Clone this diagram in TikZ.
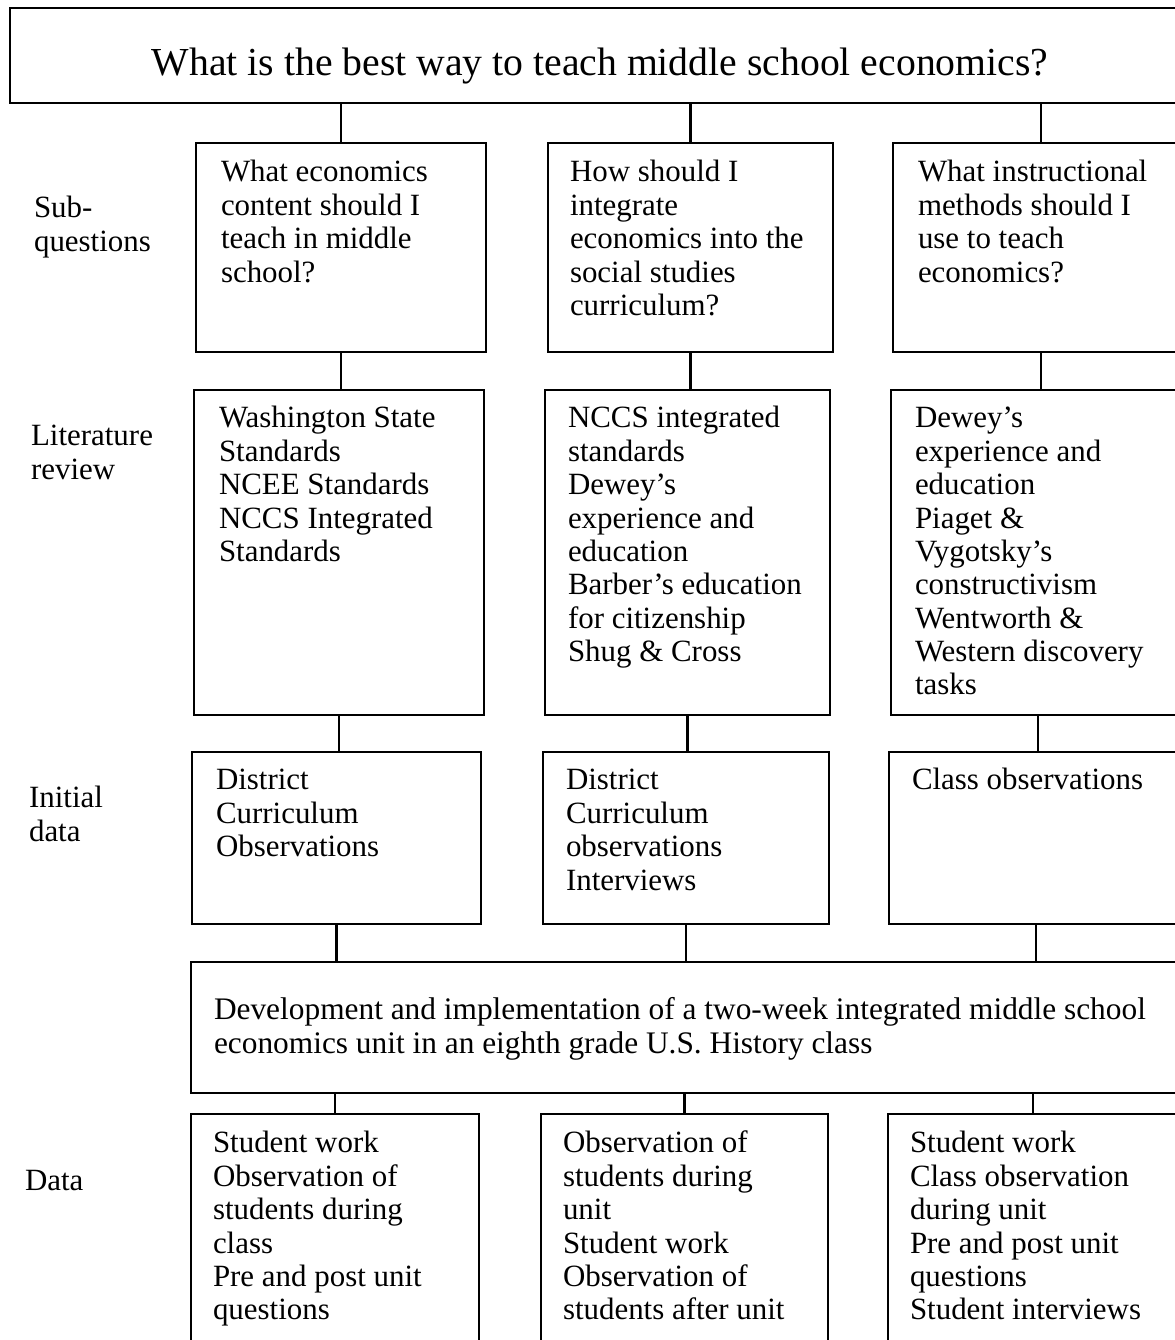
\documentclass[tikz,border=0pt]{standalone}
\usepackage{fontspec}
\setmainfont{Liberation Serif}
\usetikzlibrary{positioning}
\usetikzlibrary{fit}
\newcommand{\bodyfont}{\fontsize{17.6}{19}\selectfont}
\newcommand{\titlefont}{\fontsize{22.6}{26}\selectfont}

\begin{document}
\begin{tikzpicture}[x=0.02cm, y=-0.02cm, line width=1.2pt,
box/.style={draw, inner sep=0pt, fit={#1}},
txt/.style={anchor=north west, inner sep=0pt, align=left, font=\bodyfont},
lab/.style={anchor=north west, inner sep=0pt, align=left, font=\bodyfont}]
\clip (0,0) rectangle (1175,1340);

% main question
\node [box={(10,8) (1190,103)}] (title) {};
\node [anchor=base, inner sep=0pt, font=\titlefont] (titletxt) at (600,75) {What is the best way to teach middle school economics?};

% row labels
\node [lab] (labsq) at (33,193.5) {\strut Sub-\\questions};
\node [lab] (lablit) at (30,421.5) {\strut Literature\\review};
\node [lab] (labini) at (28,783.5) {\strut Initial\\data};
\node [lab] (labdat) at (24,1166.5) {\strut Data};

% sub-questions
\node [box={(196,143) (486,352)}] (sq1) {};
\node [txt] (sq1t) at ([shift={(25,15.5)}]sq1.north west) {\strut What economics\\content should I\\teach in middle\\school?};
\node [box={(548,143) (833,352)}] (sq2) {};
\node [txt] (sq2t) at ([shift={(22,15.5)}]sq2.north west) {\strut How should I\\integrate\\economics into the\\social studies\\curriculum?};
\node [box={(893,143) (1189,352)}] (sq3) {};
\node [txt] (sq3t) at ([shift={(25,15.5)}]sq3.north west) {\strut What instructional\\methods should I\\use to teach\\economics?};

% literature review
\node [box={(194,390) (484,715)}] (lit1) {};
\node [txt] (lit1t) at ([shift={(25,14.5)}]lit1.north west) {\strut Washington State\\Standards\\NCEE Standards\\NCCS Integrated\\Standards};
\node [box={(545,390) (830,715)}] (lit2) {};
\node [txt] (lit2t) at ([shift={(23,14.5)}]lit2.north west) {\strut NCCS integrated\\standards\\Dewey's\\experience and\\education\\Barber's education\\for citizenship\\Shug \& Cross};
\node [box={(891,390) (1185,715)}] (lit3) {};
\node [txt] (lit3t) at ([shift={(24,14.5)}]lit3.north west) {\strut Dewey's\\experience and\\education\\Piaget \&\\Vygotsky's\\constructivism\\Wentworth \&\\Western discovery\\tasks};

% initial data
\node [box={(192,752) (481,924)}] (ini1) {};
\node [txt] (ini1t) at ([shift={(24,14.5)}]ini1.north west) {\strut District\\Curriculum\\Observations};
\node [box={(543,752) (829,924)}] (ini2) {};
\node [txt] (ini2t) at ([shift={(23,14.5)}]ini2.north west) {\strut District\\Curriculum\\observations\\Interviews};
\node [box={(889,752) (1183,924)}] (ini3) {};
\node [txt] (ini3t) at ([shift={(23,14.5)}]ini3.north west) {\strut Class observations};

% unit
\node [box={(191,962) (1190,1093)}] (dev) {};
\node [txt, font=\fontsize{17.85}{19}\selectfont] (devt) at ([shift={(23,34.5)}]dev.north west) {\strut Development and implementation of a two-week integrated middle school\\economics unit in an eighth grade U.S. History class};

% data
\node [box={(191,1114) (479,1360)}] (dat1) {};
\node [txt] (dat1t) at ([shift={(22,15.5)}]dat1.north west) {\strut Student work\\Observation of\\students during\\class\\Pre and post unit\\questions};
\node [box={(541,1114) (828,1360)}] (dat2) {};
\node [txt] (dat2t) at ([shift={(22,15.5)}]dat2.north west) {\strut Observation of\\students during\\unit\\Student work\\Observation of\\students after unit};
\node [box={(888,1114) (1178,1360)}] (dat3) {};
\node [txt] (dat3t) at ([shift={(22,15.5)}]dat3.north west) {\strut Student work\\Class observation\\during unit\\Pre and post unit\\questions\\Student interviews};

% connectors
\draw (sq1.north) -- (sq1.north |- title.south);
\draw (sq2.north) -- (sq2.north |- title.south);
\draw (sq3.north) -- (sq3.north |- title.south);
\draw (sq1.south) -- (sq1.south |- lit1.north);
\draw (sq2.south) -- (sq2.south |- lit2.north);
\draw (sq3.south) -- (sq3.south |- lit3.north);
\draw (lit1.south) -- (lit1.south |- ini1.north);
\draw (lit2.south) -- (lit2.south |- ini2.north);
\draw (lit3.south) -- (lit3.south |- ini3.north);
\draw (ini1.south) -- (ini1.south |- dev.north);
\draw (ini2.south) -- (ini2.south |- dev.north);
\draw (ini3.south) -- (ini3.south |- dev.north);
\draw (dat1.north) -- (dat1.north |- dev.south);
\draw (dat2.north) -- (dat2.north |- dev.south);
\draw (dat3.north) -- (dat3.north |- dev.south);

\end{tikzpicture}
\end{document}
